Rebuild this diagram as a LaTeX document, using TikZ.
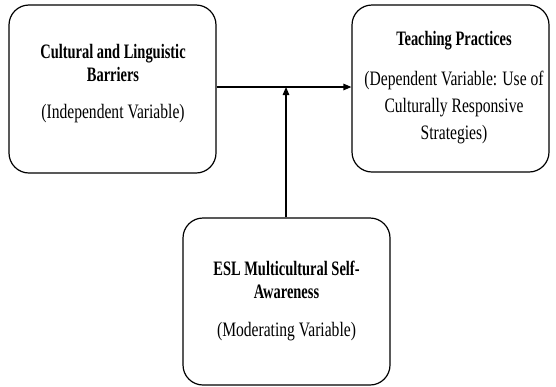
\documentclass[tikz,border=0pt]{standalone}
\usepackage{fontspec}
\setmainfont{Liberation Serif}[FakeStretch=0.76]
\newfontfamily\hdfont{Liberation Serif}[FakeStretch=0.705]
\newcommand\hdb{\hdfont\bfseries}
\usetikzlibrary{arrows.meta}
\tikzset{
  varbox/.style={draw=black, line width=1.2pt, rounded corners=20pt, inner sep=0pt},
  vartext/.style={align=center, inner sep=0pt, anchor=base, font=\fontsize{20.5}{23.3}\selectfont},
  link/.style={line width=1.2pt, -{Triangle[length=8pt,width=6.5pt]}}
}
\begin{document}
\begin{tikzpicture}[x=1pt,y=1pt]
\useasboundingbox (0,0) rectangle (556,-386);
\node[varbox, minimum width=207pt, minimum height=168pt] (b1) at (112.5,-89) {};
\node[varbox, minimum width=197pt, minimum height=167pt] (b2) at (450.5,-88.5) {};
\node[varbox, minimum width=207pt, minimum height=167pt] (b3) at (286.5,-301.5) {};
\node[vartext] (t1) at (113,-118.3) {\hdb Cultural and Linguistic\\\hdb Barriers\\[13.3pt](Independent Variable)};
\node[vartext] (t2) at (454,-139.3) {\hdb Teaching Practices\\[17pt](Dependent Variable: Use of\\[3.4pt]Culturally Responsive\\[3.4pt]Strategies)};
\node[vartext] (t3) at (286.5,-336) {\hdb ESL Multicultural Self-\\\hdb Awareness\\[14.4pt](Moderating Variable)};
\coordinate (m) at (286,-87);
\draw[link] ([yshift=2pt]b1.east) -- ([yshift=1.5pt]b2.west);
\draw[link] (b3.north -| m) -- (m);
\end{tikzpicture}
\end{document}
